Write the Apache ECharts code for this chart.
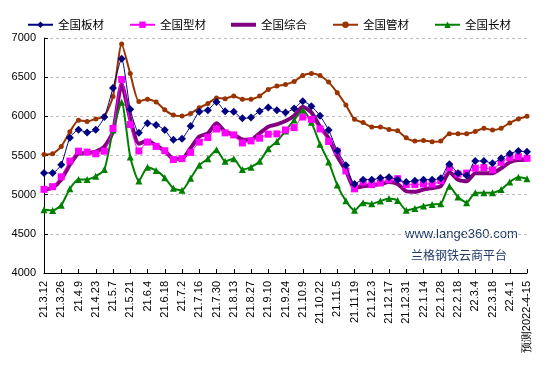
<!DOCTYPE html>
<html>
<head>
<meta charset="utf-8">
<script src="https://cdn.jsdelivr.net/npm/echarts@6/dist/echarts.min.js"></script>
<style>
html,body{margin:0;padding:0;background:#fff;}
#c{width:547px;height:368px;}
</style>
</head>
<body>
<div id="c"></div>
<script>
var categories = ['21.3.12','21.3.19','21.3.26','21.4.2','21.4.9','21.4.16','21.4.23','21.4.30','21.5.7','21.5.14',
'21.5.21','21.5.28','21.6.4','21.6.11','21.6.18','21.6.25','21.7.2','21.7.9','21.7.16','21.7.23',
'21.7.30','21.8.6','21.8.13','21.8.20','21.8.27','21.9.3','21.9.10','21.9.17','21.9.24','21.9.30',
'21.10.9','21.10.15','21.10.22','21.10.29','21.11.5','21.11.12','21.11.19','21.11.26','21.12.3','21.12.10',
'21.12.17','21.12.24','21.12.31','22.1.7','22.1.14','22.1.21','22.1.28','22.2.11','22.2.18','22.2.25',
'22.3.4','22.3.11','22.3.18','22.3.25','22.4.1','22.4.8','预测2022-4-15'];

var plate = [5278,5278,5383,5727,5828,5795,5828,5992,6362,6735,
6089,5790,5911,5890,5826,5700,5713,5877,6058,6079,
6184,6066,6058,5974,5986,6066,6113,6079,6050,6100,
6193,6130,6007,5826,5561,5376,5137,5192,5192,5213,
5221,5192,5162,5179,5192,5192,5210,5388,5275,5246,
5430,5430,5401,5464,5522,5556,5548];

var section = [5068,5102,5228,5429,5555,5543,5522,5555,5845,6471,
5895,5558,5671,5616,5561,5448,5460,5540,5671,5730,
5839,5789,5763,5660,5687,5721,5772,5776,5826,5856,
5991,5961,5839,5679,5553,5303,5074,5162,5128,5150,
5192,5204,5128,5128,5137,5137,5179,5346,5263,5275,
5338,5346,5317,5413,5472,5485,5464];

var composite = [5060,5090,5194,5383,5522,5530,5550,5614,5803,6412,
5960,5650,5687,5629,5561,5460,5460,5595,5742,5784,
5911,5805,5763,5705,5700,5784,5868,5898,5940,6007,
6121,6050,5868,5721,5490,5310,5086,5107,5120,5137,
5162,5137,5044,5036,5065,5086,5107,5288,5191,5170,
5275,5275,5275,5338,5413,5443,5443];

var pipe = [5513,5522,5614,5803,5950,5933,5967,6000,6252,6924,
6546,6190,6218,6184,6083,6016,6003,6037,6108,6163,
6235,6226,6260,6218,6218,6260,6344,6386,6407,6445,
6521,6546,6521,6437,6302,6145,5962,5920,5865,5865,
5832,5815,5726,5684,5693,5676,5684,5778,5778,5778,
5807,5849,5824,5849,5916,5966,6000];

var longp = [4808,4799,4866,5076,5194,5194,5236,5320,5824,6181,
5480,5174,5351,5309,5216,5081,5056,5208,5376,5460,
5574,5426,5460,5321,5351,5426,5586,5679,5814,5953,
6079,5923,5645,5418,5123,4921,4800,4897,4884,4918,
4952,4926,4800,4825,4855,4876,4884,5108,4969,4898,
5024,5024,5024,5066,5162,5221,5204];

var yMin = 4000, yMax = 7000, yStep = 500;

var chart = echarts.init(document.getElementById('c'), null, {renderer:'canvas'});
var font = '"Liberation Sans", Arial, sans-serif';
var cjk = '"Noto Sans CJK SC", "Liberation Sans", sans-serif';
chart.setOption({
  animation:false,
  backgroundColor:'#ffffff',
  legend:{
    left:27, top:19, padding:0,
    itemWidth:25, itemHeight:8, itemGap:25,
    textStyle:{fontSize:11.5, color:'#000', fontFamily:cjk},
    data:['全国板材','全国型材',
      {name:'全国综合', icon:'path://M0,0 L50,0 L50,8 L0,8 Z'},
      '全国管材','全国长材']
  },
  grid:{left:44, right:20, top:38, bottom:95, containLabel:false},
  xAxis:{
    type:'category', data:categories, boundaryGap:false,
    axisLine:{lineStyle:{color:'#000', width:1}},
    axisTick:{show:true, inside:true, length:4, interval:1, lineStyle:{color:'#000'}},
    axisLabel:{interval:1, rotate:90, fontSize:11, color:'#000', fontFamily:font, margin:8},
    splitLine:{show:false}
  },
  yAxis:{
    type:'value', min:yMin, max:yMax, interval:yStep,
    axisLine:{show:true, lineStyle:{color:'#000', width:1}},
    axisTick:{show:true, inside:true, length:4, lineStyle:{color:'#000'}},
    axisLabel:{fontSize:11, color:'#000', fontFamily:font, margin:8, formatter:function(v){return String(v);}},
    splitLine:{show:true, lineStyle:{color:'#BDBDBD', type:[3,3], width:1}}
  },
  series:[
    {name:'全国板材', type:'line', data:plate, smooth:0.2, symbol:'diamond', symbolSize:8, showSymbol:true, showAllSymbol:true,
     lineStyle:{color:'#000080', width:1}, itemStyle:{color:'#000080'}, z:5},
    {name:'全国型材', type:'line', data:section, smooth:0.2, symbol:'rect', symbolSize:7, showSymbol:true, showAllSymbol:true,
     lineStyle:{color:'#FF00FF', width:1}, itemStyle:{color:'#FF00FF'}, z:4},
    {name:'全国综合', type:'line', data:composite, smooth:0.2, symbol:'none', showSymbol:false,
     lineStyle:{color:'#800080', width:4}, itemStyle:{color:'#800080'}, z:3},
    {name:'全国管材', type:'line', data:pipe, smooth:0.2, symbol:'circle', symbolSize:5, showSymbol:true, showAllSymbol:true,
     lineStyle:{color:'#993300', width:2}, itemStyle:{color:'#993300'}, z:3},
    {name:'全国长材', type:'line', data:longp, smooth:0.2, symbol:'triangle', symbolSize:7, showSymbol:true, showAllSymbol:true,
     lineStyle:{color:'#008000', width:2}, itemStyle:{color:'#008000'}, z:3}
  ],
  graphic:[
    {type:'text', left:405, top:228, style:{text:'www.lange360.com', fill:'#1F3864', font:'13px "Liberation Sans", Arial, sans-serif'}},
    {type:'text', left:411, top:249, style:{text:'兰格钢铁云商平台', fill:'#1F3864', font:'12px "Noto Sans CJK SC", sans-serif'}}
  ]
});
</script>
</body>
</html>
